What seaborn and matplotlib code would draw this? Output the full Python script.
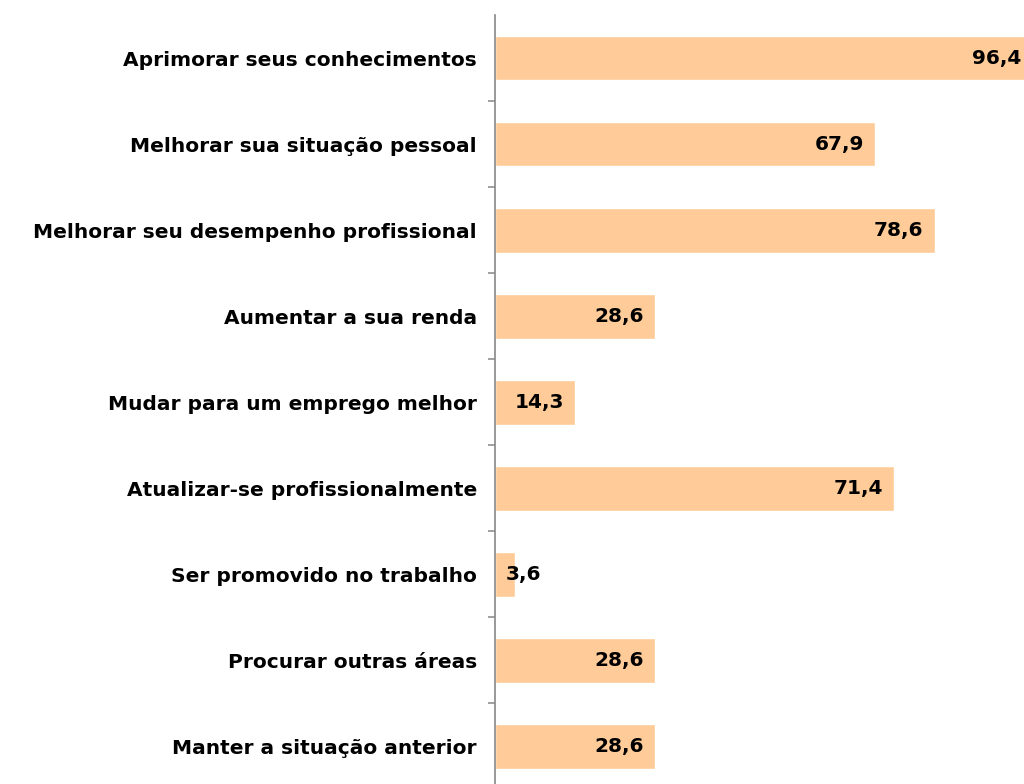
import matplotlib.pyplot as plt
import seaborn as sns
import pandas as pd
from matplotlib.ticker import FixedLocator

motivos = [
    "Aprimorar seus conhecimentos",
    "Melhorar sua situação pessoal",
    "Melhorar seu desempenho profissional",
    "Aumentar a sua renda",
    "Mudar para um emprego melhor",
    "Atualizar-se profissionalmente",
    "Ser promovido no trabalho",
    "Procurar outras áreas",
    "Manter a situação anterior",
]
percentuais = [96.4, 67.9, 78.6, 28.6, 14.3, 71.4, 3.6, 28.6, 28.6]

df = pd.DataFrame({"motivo": motivos, "pct": percentuais})

sns.set_style("white")
plt.rcParams['font.family'] = ['DejaVu Sans']

fig = plt.figure(figsize=(10.24, 7.84), dpi=100)
ax = fig.add_axes([495 / 1024, 0.0, 1 - 495 / 1024, 1 - 15 / 784])

sns.barplot(data=df, x="pct", y="motivo", orient="h", color="#FFCC99",
            saturation=1, width=0.52, ax=ax)

ax.set_xlim(0, 94.6)
ax.set_ylim(8.436, -0.5)
ax.set_xlabel("")
ax.set_ylabel("")
ax.set_xticks([])

fs = 14.5
px = 72 / 100  # points per pixel

# category labels, bold, right-aligned next to the axis
ax.yaxis.set_major_locator(FixedLocator(range(len(motivos))))
ax.set_yticklabels(motivos, fontsize=fs, fontweight="bold", color="black")
ax.tick_params(axis="y", which="major", length=0, pad=18 * px)
ax.yaxis.set_minor_locator(FixedLocator([i + 0.5 for i in range(len(motivos))]))
ax.tick_params(axis="y", which="minor", left=True, length=7 * px, width=1.3,
               color="#999999")

for side in ["top", "right", "bottom"]:
    ax.spines[side].set_visible(False)
ax.spines["left"].set_color("#888888")
ax.spines["left"].set_linewidth(1.2)

xmax = ax.get_xlim()[1]
for i, v in enumerate(percentuais):
    txt = f"{v:.1f}".replace(".", ",")
    if v < 8:
        ax.annotate(txt, (0, i), xytext=(11 * px, 0), textcoords="offset points",
                    ha="left", va="center", fontsize=fs, fontweight="bold",
                    color="black")
    elif v > xmax:
        # bar runs past the right edge: label hugs the edge
        ax.annotate(txt, (xmax, i), xytext=(-3 * px, 0),
                    textcoords="offset points", ha="right", va="center",
                    fontsize=fs, fontweight="bold", color="black")
    else:
        ax.annotate(txt, (v, i), xytext=(-11 * px, 0),
                    textcoords="offset points", ha="right", va="center",
                    fontsize=fs, fontweight="bold", color="black")

fig.savefig("out.png", dpi=100)
